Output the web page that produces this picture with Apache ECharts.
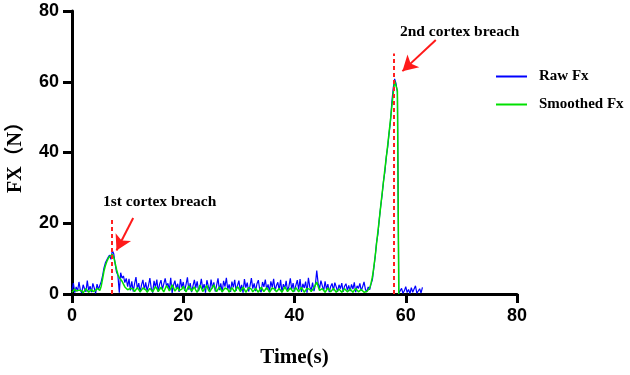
<!DOCTYPE html>
<html>
<head>
<meta charset="utf-8">
<script src="https://cdn.jsdelivr.net/npm/echarts@6/dist/echarts.min.js"></script>
<style>
  html, body { margin: 0; padding: 0; background: #fff; }
  #main { width: 630px; height: 375px; }
</style>
</head>
<body>
<div id="main"></div>
<script>
// sample step of both traces (s)
var dt = 0.25

// raw force, t = 0 .. 63 s
var rawFx = [
  1.2, 3.1, 0.4, 2.0, 0.8, 3.4, 1.1, 0.3, 2.6, 1.5, 0.6, 3.8, 1.0, 2.2, 0.5, 3.0, 1.7, 0.2, 2.8, 1.3,
  2.4, 3.5, 5.2, 7.4, 8.8, 9.6, 10.4, 11.0, 9.8, 12.3,
  11.4, 8.6, 6.2, 5.3, 0.4, 6.0, 4.5, 5.1, 3.2, 4.4,
  2.1, 4.3, 1.0, 3.6, 0.7, 2.9, 4.8, 1.4, 3.1, 0.5, 2.6, 4.0, 1.2, 3.3, 0.9, 2.4, 4.5, 1.6, 0.4, 3.7,
  1.9, 4.1, 0.6, 2.8, 3.9, 1.3, 0.8, 4.4, 2.2, 3.0, 1.1, 4.6, 0.3, 2.5, 3.8, 1.5, 2.9, 0.6, 4.2, 1.8,
  3.4, 0.9, 2.7, 4.7, 1.2, 3.1, 0.5, 2.3, 4.0, 1.7, 3.6, 0.8, 2.0, 4.3, 1.4, 2.8, 0.4, 3.9, 2.2, 1.0,
  4.1, 1.6, 3.3, 0.7, 2.5, 4.4, 1.1, 3.0, 0.5, 3.7, 2.1, 4.6, 1.3, 2.7, 0.6, 3.5, 1.9, 4.0, 0.9, 2.4,
  3.8, 1.0, 2.6, 0.4, 4.2, 1.8, 3.2, 0.7, 2.3, 4.5, 1.5, 3.0, 0.8, 2.9, 3.9, 1.2, 0.5, 3.4, 2.0, 4.1,
  1.3, 2.7, 0.6, 3.6, 1.9, 4.3, 0.9, 2.4, 3.3, 1.1, 4.0, 0.5, 2.8, 1.6, 3.7, 0.8, 2.2, 4.4, 1.4, 3.1,
  0.7, 2.5, 3.9, 1.2, 4.2, 0.6, 2.9, 1.7, 3.5, 0.4, 4.6, 2.0, 1.1, 3.2, 0.8, 2.6, 6.6, 3.0, 1.5, 3.8,
  2.3, 0.9, 3.6, 1.4, 2.8, 0.5, 2.1, 3.0, 1.0, 3.2, 2.0, 0.7, 2.6, 1.5, 3.1, 0.6, 2.2, 2.9, 1.0, 2.4,
  0.8, 2.7, 1.4, 3.3, 0.5, 2.3, 1.6, 3.0, 0.9, 2.1, 3.4, 1.3, 0.6, 2.0,
  1.2, 2.8, 4.0, 7.2, 10.5, 14.6, 17.0, 21.3, 24.8, 28.0, 31.9, 34.6, 38.8, 41.5, 45.4, 48.7, 54.3, 58.2,
  60.8, 59.5, 57.0, 0.2,
  0.3, 1.6, 0.2, 0.9, 2.1, 0.4, 1.3, 0.1, 1.8, 0.5, 1.0, 2.3, 0.2, 0.7, 1.5, 0.3, 1.9
]

// smoothed force, t = 0 .. 58.75 s
var smoothFx = [
  0.5, 1.0, 1.4, 0.8, 0.4, 1.1, 1.6, 0.9, 0.3, 0.8, 1.5, 1.0, 0.5, 0.9, 1.3, 0.7, 0.4, 1.0, 1.6, 1.2,
  1.0, 2.2, 4.3, 6.5, 8.0, 9.1, 10.0, 10.6, 10.9, 11.2,
  10.4, 8.8, 7.0, 5.5, 4.6, 4.2, 3.6, 2.8, 2.0, 1.5,
  1.2, 0.8, 1.6, 2.1, 1.4, 0.7, 1.0, 1.8, 1.3, 0.6, 0.9, 1.7, 2.0, 1.2, 0.5, 0.9, 1.6, 1.1, 0.6, 1.3,
  2.1, 1.5, 0.7, 1.0, 1.9, 1.4, 0.6, 1.1, 2.4, 1.7, 0.9, 1.5, 2.6, 1.8, 0.8, 1.2, 1.9, 1.0, 0.5, 1.4,
  2.2, 1.3, 0.6, 1.5, 2.3, 1.6, 0.8, 1.2, 2.0, 1.1, 0.5, 1.3, 2.5, 1.7, 0.7, 1.0, 1.8, 2.4, 1.2, 0.6,
  1.1, 1.9, 2.6, 1.4, 0.7, 1.2, 2.0, 1.5, 0.6, 0.9, 1.7, 2.2, 1.3, 0.5, 1.0, 1.8, 1.2, 0.6, 1.4, 2.1,
  1.5, 0.7, 1.0, 1.9, 1.3, 0.5, 1.1, 1.8, 2.3, 1.4, 0.6, 0.9, 1.6, 1.2, 0.5, 1.0, 1.9, 1.4, 0.7, 1.1,
  1.8, 1.2, 0.5, 0.9, 1.7, 2.2, 1.3, 0.6, 1.0, 1.6, 1.1, 0.5, 1.2, 2.0, 1.4, 0.7, 1.0, 1.7, 1.2, 0.6,
  0.9, 1.8, 1.3, 0.6, 1.1, 1.9, 1.2, 0.5, 1.0, 1.6, 2.0, 1.3, 0.7, 1.1, 1.8, 2.6, 3.4, 2.2, 1.0, 0.8,
  1.5, 1.1, 0.5, 1.0, 1.7, 1.2, 0.6, 0.9, 1.6, 1.1, 0.5, 0.8, 1.4, 1.0, 0.5, 0.9, 1.5, 1.1, 0.6, 1.0,
  1.4, 0.9, 0.5, 1.0, 1.6, 1.1, 0.6, 0.9, 1.3, 0.8, 0.5, 0.9, 0.7, 1.0,
  1.6, 3.0, 4.8, 7.5, 10.6, 14.2, 17.8, 21.2, 24.9, 28.4, 31.8, 35.3, 38.6, 42.0, 45.6, 49.2, 53.0, 56.8,
  60.2, 60.0, 57.5, 0.0
]

// breach markers: time, top of dashed line
var breachTimes = [7.2, 57.9]
var breachTops = [21.5, 68]
// arrows: [tail, head] in data units
var arrows = [
  [[11.0, 21.5], [8.0, 12.3]],
  [[65.4, 71.8], [59.4, 63.0]]
]

function pairs(vals) {
  return vals.map(function (v, i) { return [i * dt, v] })
}

var serif = '"Liberation Serif", "Times New Roman", serif'
var sans = '"Liberation Sans", Arial, sans-serif'

var chart = echarts.init(document.getElementById('main'), null, { renderer: 'canvas' })

var markLines = breachTimes.map(function (t, i) {
  return [{ coord: [t, 0] }, { coord: [t, breachTops[i]] }]
})
var arrowLines = arrows.map(function (a) {
  return [{ coord: a[0] }, { coord: a[1] }]
})

chart.setOption({
  animation: false,
  grid: { left: 72, right: 113, top: 11, bottom: 81, outerBoundsMode: 'none', containLabel: false },
  legend: {
    orient: 'vertical',
    left: 491,
    top: 64,
    itemWidth: 31,
    itemHeight: 2,
    itemGap: 13,
    icon: 'rect',
    textStyle: { fontFamily: serif, fontWeight: 'bold', fontSize: 15, color: '#000', padding: [0, 0, 0, 7] },
    data: ['Raw Fx', 'Smoothed Fx']
  },
  xAxis: {
    type: 'value', min: 0, max: 80, interval: 20,
    name: 'Time(s)', nameLocation: 'middle', nameGap: 53,
    nameTextStyle: { fontFamily: serif, fontWeight: 'bold', fontSize: 21, color: '#000' },
    axisLine: { lineStyle: { color: '#000', width: 3 } },
    axisTick: { length: 9, lineStyle: { color: '#000', width: 3 } },
    axisLabel: { fontFamily: sans, fontWeight: 'bold', fontSize: 18, color: '#000', margin: 13 },
    splitLine: { show: false }
  },
  yAxis: {
    type: 'value', min: 0, max: 80, interval: 20,
    name: 'FX（N）', nameLocation: 'middle', nameGap: 46,
    nameTextStyle: { fontFamily: serif + ', "Noto Sans CJK SC"', fontWeight: 'bold', fontSize: 20, color: '#000' },
    axisLine: { lineStyle: { color: '#000', width: 3 } },
    axisTick: { length: 9, lineStyle: { color: '#000', width: 3 } },
    axisLabel: { fontFamily: sans, fontWeight: 'bold', fontSize: 18, color: '#000', margin: 13 },
    splitLine: { show: false }
  },
  series: [
    {
      name: 'Raw Fx', type: 'line', symbol: 'none',
      data: pairs(rawFx),
      lineStyle: { color: '#0000ff', width: 1.2 },
      itemStyle: { color: '#0000ff' }
    },
    {
      name: 'Smoothed Fx', type: 'line', symbol: 'none',
      data: pairs(smoothFx),
      lineStyle: { color: '#00e000', width: 1.5 },
      itemStyle: { color: '#00e000' },
      markLine: {
        silent: true, symbol: 'none', animation: false,
        label: { show: false },
        lineStyle: { color: '#ff2020', type: [4, 3], width: 2 },
        data: markLines
      }
    },
    {
      name: 'arrows', type: 'line', symbol: 'none', data: [],
      markLine: {
        silent: true, symbol: ['none', 'arrow'], symbolSize: [13, 15], animation: false,
        label: { show: false },
        lineStyle: { color: '#ff1a1a', type: 'solid', width: 2 },
        data: arrowLines
      }
    }
  ],
  graphic: [
    { type: 'text', left: 103, top: 194, style: { text: '1st cortex breach', font: 'bold 15.5px ' + serif, fill: '#000' } },
    { type: 'text', left: 400, top: 24, style: { text: '2nd cortex breach', font: 'bold 15.5px ' + serif, fill: '#000' } }
  ]
})
</script>
</body>
</html>
